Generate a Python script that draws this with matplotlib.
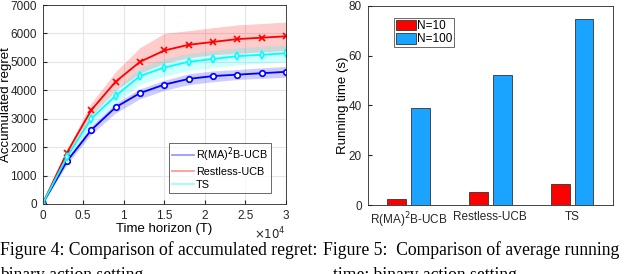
import matplotlib
matplotlib.use("Agg")
import matplotlib.pyplot as plt
from matplotlib.lines import Line2D
import numpy as np

plt.rcParams["font.family"] = ["Liberation Sans", "DejaVu Sans"]

# accumulated regret (left panel)
horizon = [0, 3000, 6000, 9000, 12000, 15000, 18000, 21000, 24000, 27000, 30000]
ucb_ma = [0, 1500, 2600, 3400, 3900, 4200, 4400, 4500, 4550, 4600, 4650]
ucb_ma_lo = [0, 1400, 2450, 3200, 3700, 4000, 4200, 4300, 4380, 4420, 4460]
ucb_ma_hi = [0, 1600, 2750, 3550, 4050, 4350, 4580, 4680, 4730, 4790, 4840]
restless = [0, 1800, 3300, 4300, 5000, 5400, 5600, 5700, 5800, 5850, 5900]
restless_lo = [0, 1700, 3100, 4000, 4600, 4950, 5150, 5250, 5300, 5350, 5400]
restless_hi = [0, 1900, 3550, 4650, 5500, 6000, 6100, 6200, 6300, 6350, 6400]
ts = [0, 1650, 3000, 3800, 4500, 4800, 5000, 5100, 5200, 5250, 5300]
ts_lo = [0, 1550, 2800, 3550, 4200, 4500, 4700, 4800, 4900, 4950, 5000]
ts_hi = [0, 1750, 3150, 4050, 4800, 5100, 5300, 5400, 5500, 5550, 5600]
series_names = ["R(MA)$^2$B-UCB", "Restless-UCB", "TS"]

# running time (right panel)
algos = ["R(MA)$^2$B-UCB", "Restless-UCB", "TS"]
time_n10 = [2.3, 5.3, 8.5]
time_n100 = [38.8, 52.3, 74.8]

fig = plt.figure(figsize=(6.4, 2.74), dpi=100)

# ---- left: accumulated regret
ax1 = fig.add_axes([42.5 / 640, 1 - 204 / 274, 243.5 / 640, 199 / 274])
x = np.array(horizon)
styles = [
    (ucb_ma, ucb_ma_lo, ucb_ma_hi, "#0000ff", "o"),
    (restless, restless_lo, restless_hi, "#ff0000", "x"),
    (ts, ts_lo, ts_hi, "#00ffff", "d"),
]
handles = []
for (y, lo, hi, c, m), name in zip(styles, series_names):
    ax1.fill_between(x, lo, hi, color=c, alpha=0.2, lw=0)
    ax1.plot(x, y, color=c, marker=m, ms=4, mfc="white" if m != "x" else c,
             mew=1.2, lw=1.3)
    handles.append(Line2D([], [], color=c, alpha=0.4, lw=1.3, label=name))

ax1.set_xlim(0, 30000)
ax1.set_ylim(0, 7000)
ax1.set_xticks([0, 5000, 10000, 15000, 20000, 25000, 30000])
ax1.set_xticklabels(["0", "0.5", "1", "1.5", "2", "2.5", "3"])
ax1.set_yticks(range(0, 7001, 1000))
ax1.grid(True, color="#e6e6e6", lw=0.8)
ax1.set_axisbelow(True)
ax1.tick_params(direction="in", labelsize=8.5, colors="#262626", length=3,
                pad=4)
ax1.set_xlabel("Time horizon (T)", fontsize=9.5, labelpad=1)
ax1.set_ylabel("Accumulated regret", fontsize=9.5)
ax1.yaxis.set_label_coords(-0.125, 0.5)
ax1.text(1.0, -0.11, r"$\times10^4$", transform=ax1.transAxes, ha="right",
         va="top", fontsize=8.5, color="#262626")
for s in ax1.spines.values():
    s.set_color("#262626")
    s.set_linewidth(0.6)
leg = ax1.legend(handles=handles, loc="lower right", fontsize=7.8,
                 frameon=True, fancybox=False, edgecolor="#262626",
                 handlelength=2.0, handletextpad=0.2, borderpad=0.3,
                 labelspacing=0.25, borderaxespad=0,
                 bbox_to_anchor=(0.938, 0.055))
leg.get_frame().set_linewidth(0.6)

# ---- right: running time
ax2 = fig.add_axes([367.5 / 640, 1 - 205 / 274, 245.5 / 640, 199 / 274])
pos = np.arange(len(algos))
w = 0.23
ax2.bar(pos - 0.145, time_n10, w, color="#ff0000", edgecolor="#333333",
        lw=0.6, label="N=10")
ax2.bar(pos + 0.145, time_n100, w, color="#1aa3ff", edgecolor="#333333",
        lw=0.6, label="N=100")
ax2.set_xlim(-0.5, 2.5)
ax2.set_ylim(0, 80)
ax2.set_yticks(range(0, 81, 20))
ax2.set_xticks(pos)
ax2.set_xticklabels(algos)
ax2.tick_params(direction="in", labelsize=8.5, colors="#262626", length=3,
                pad=4)
ax2.tick_params(axis="x", length=0)
ax2.set_ylabel("Running time (s)", fontsize=9.5)
ax2.yaxis.set_label_coords(-0.075, 0.5)
for s in ax2.spines.values():
    s.set_color("#262626")
    s.set_linewidth(0.6)
leg2 = ax2.legend(loc="upper left", fontsize=8.5, frameon=True, fancybox=False,
                  edgecolor="#262626", handlelength=1.7, handleheight=1.0,
                  handletextpad=0.1, borderpad=0.15, labelspacing=0.1,
                  bbox_to_anchor=(0.085, 0.97))
leg2.get_frame().set_linewidth(0.6)

# captions (cut at the image edges like the source crop)
cap = dict(family=["Liberation Serif", "DejaVu Serif"], fontsize=12.7,
           color="black", va="baseline")
fig.text(0.0, 1 - 255 / 274, "Figure 4: Comparison of accumulated regret:", **cap)
fig.text(0.0, 1 - 280 / 274, "binary action setting", **cap)
fig.text(323 / 640, 1 - 255 / 274, "Figure 5:  Comparison of average running", **cap)
fig.text(333 / 640, 1 - 280 / 274, "time: binary action setting", **cap)

fig.savefig("out.png", dpi=100)
